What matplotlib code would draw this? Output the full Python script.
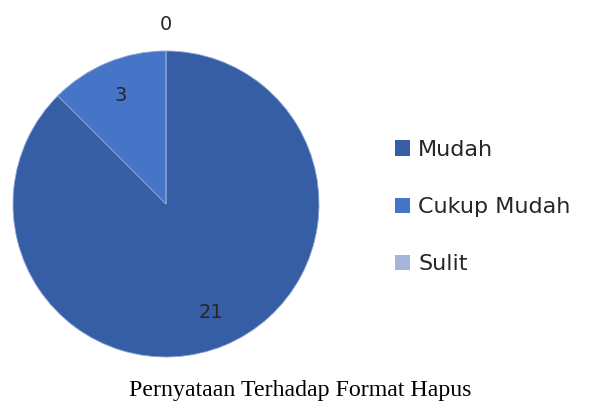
import numpy as np
import matplotlib.pyplot as plt
from matplotlib.patches import Patch

categories = ["Mudah", "Cukup Mudah", "Sulit"]
values = [21, 3, 0]
colors = ["#355EA5", "#4675C8", "#A5B4D9"]
caption = "Pernyataan Terhadap Format Hapus"

fig = plt.figure(figsize=(6, 4.03), dpi=100)
r_px = 153
cx, cy = 166, 403 - 204
ax = fig.add_axes([(cx - r_px) / 600, (cy - r_px) / 403, 2 * r_px / 600, 2 * r_px / 403])

wedges, _ = ax.pie(values, colors=colors, startangle=90, counterclock=False,
                   wedgeprops=dict(edgecolor="#8FA8DA", linewidth=0.6))
ax.set_xlim(-1, 1)
ax.set_ylim(-1, 1)
ax.set_aspect("equal")

# data labels at the middle of each wedge
for w, v in zip(wedges, values):
    ang = np.deg2rad((w.theta1 + w.theta2) / 2)
    dist = 0.77 if v > 0 else 1.17
    ax.text(dist * np.cos(ang), dist * np.sin(ang), str(v), ha="center", va="center",
            fontsize=14, color="#262626", family="DejaVu Sans")

handles = [Patch(facecolor=c, edgecolor="none") for c in colors]
fig.legend(handles, categories, loc="center left", bbox_to_anchor=(0.658, 0.486),
           frameon=False, fontsize=16, handlelength=0.7, handleheight=0.7,
           handletextpad=0.35, labelspacing=1.68, borderpad=0, borderaxespad=0,
           labelcolor="#262626")

fig.text(0.5, 0.032, caption, ha="center", va="center", fontsize=17.2,
         family="Liberation Serif", color="black")

fig.savefig("out.png", dpi=100, facecolor="white")
